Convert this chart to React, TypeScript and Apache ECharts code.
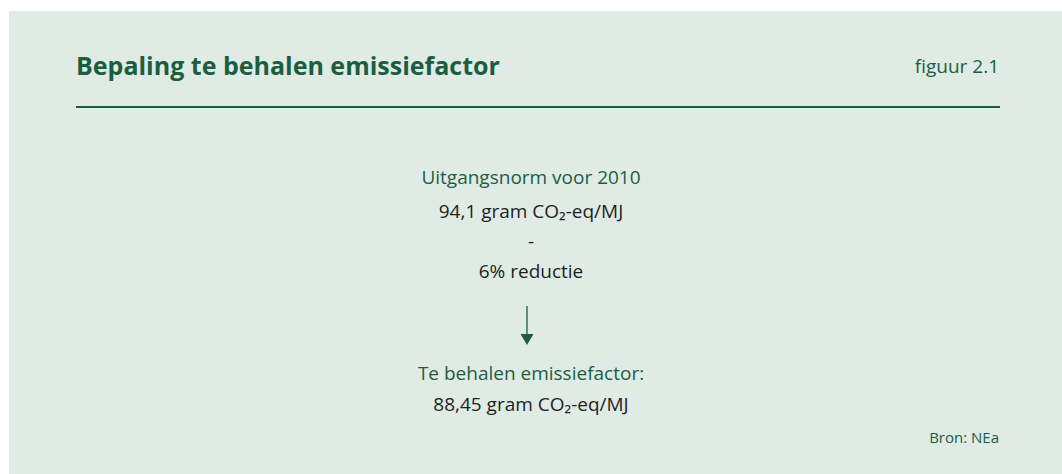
import React, { useEffect, useRef } from "react";
import * as echarts from "echarts";

const title = "Bepaling te behalen emissiefactor";
const figureLabel = "figuur 2.1";
const source = "Bron: NEa";
const topLines = ["Uitgangsnorm voor 2010", "94,1 gram CO₂-eq/MJ", "-", "6% reductie"];
const bottomLines = ["Te behalen emissiefactor:", "88,45 gram CO₂-eq/MJ"];

const GREEN = "#1b5e3f";
const DARK = "#231f20";
const BG = "#e0ebe6";
const FONT = "'Open Sans', 'Noto Sans', sans-serif";

export default function App() {
  const ref = useRef<HTMLDivElement>(null);
  useEffect(() => {
    if (!ref.current) return;
    const chart = echarts.init(ref.current, undefined, { renderer: "svg" });
    const cx = 531;
    const elements: any[] = [
      { type: "rect", shape: { x: 9, y: 11, width: 1053, height: 463 }, style: { fill: BG } },
      { type: "text", x: 76, y: 65, style: { text: title, font: `bold 25px ${FONT}`, fill: GREEN, textVerticalAlign: "middle" } },
      { type: "text", x: 999, y: 66, style: { text: figureLabel, font: `19px ${FONT}`, fill: GREEN, textAlign: "right", textVerticalAlign: "middle" } },
      { type: "line", shape: { x1: 76, y1: 107, x2: 1000, y2: 107 }, style: { stroke: GREEN, lineWidth: 2 } },
      { type: "line", shape: { x1: 527, y1: 306, x2: 527, y2: 336 }, style: { stroke: GREEN, lineWidth: 1.3 } },
      { type: "polygon", shape: { points: [[520.5, 334], [533.5, 334], [527, 345]] }, style: { fill: GREEN } },
      { type: "text", x: 999, y: 437, style: { text: source, font: `15px ${FONT}`, fill: GREEN, textAlign: "right", textVerticalAlign: "middle" } },
    ];
    const topY = [176.5, 210.5, 240.5, 270.5];
    topLines.forEach((t, i) => {
      elements.push({ type: "text", x: cx, y: topY[i], style: { text: t, font: `19px ${FONT}`, fill: i === 0 ? GREEN : DARK, textAlign: "center", textVerticalAlign: "middle" } });
    });
    const botY = [372.5, 404];
    bottomLines.forEach((t, i) => {
      elements.push({ type: "text", x: cx, y: botY[i], style: { text: t, font: `19px ${FONT}`, fill: i === 0 ? GREEN : DARK, textAlign: "center", textVerticalAlign: "middle" } });
    });
    chart.setOption({ animation: false, graphic: { elements } });
    return () => chart.dispose();
  }, []);
  return <div ref={ref} style={{ position: "fixed", left: 0, top: 0, width: 1062, height: 474, background: "#fff" }} />;
}
